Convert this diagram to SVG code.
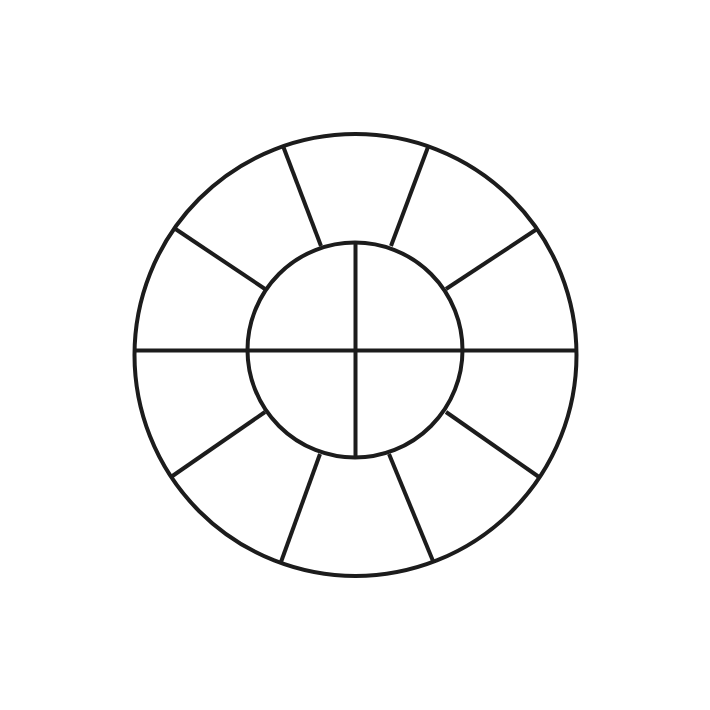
<svg xmlns="http://www.w3.org/2000/svg" width="710" height="710" viewBox="0 0 710 710">
<style>
.s{fill:none;stroke:#1c1c1c;stroke-width:4;stroke-linecap:butt}
</style>
<rect width="710" height="710" fill="#fff"/>
<g id="outer"><circle class="s" cx="355.5" cy="355" r="221"/></g>
<g id="connectors">
<line class="s" x1="134" y1="350.5" x2="577" y2="350.5"/>
<line class="s" x1="355.5" y1="243" x2="355.5" y2="457"/>
<line class="s" x1="283" y1="146" x2="321" y2="246"/>
<line class="s" x1="428" y1="147" x2="391" y2="246"/>
<line class="s" x1="174" y1="228" x2="265" y2="289"/>
<line class="s" x1="537" y1="229" x2="446" y2="289"/>
<line class="s" x1="446" y1="412" x2="539" y2="477"/>
<line class="s" x1="265" y1="412" x2="171" y2="477"/>
<line class="s" x1="389" y1="454" x2="433" y2="561"/>
<line class="s" x1="320" y1="454" x2="281" y2="562"/>
</g>
<g id="inner"><circle class="s" cx="355" cy="350" r="107.5"/></g>
</svg>
